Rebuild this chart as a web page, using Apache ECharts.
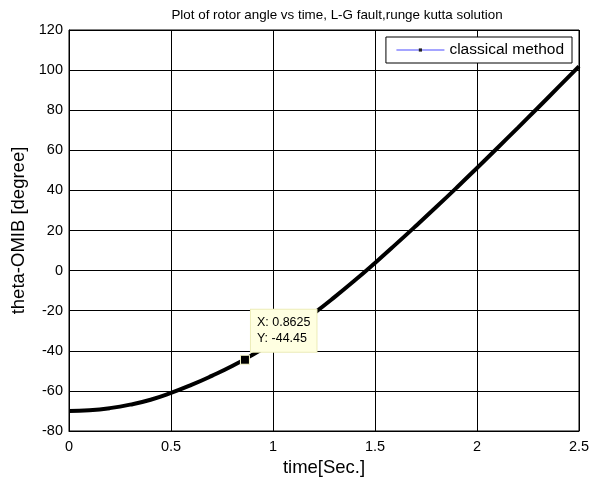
<!DOCTYPE html>
<html>
<head>
<meta charset="utf-8">
<script src="https://cdn.jsdelivr.net/npm/echarts@6/dist/echarts.min.js"></script>
<style>
  html, body { margin: 0; padding: 0; background: #fff; }
  #chart { width: 599px; height: 479px; }
</style>
</head>
<body>
<div id="chart"></div>
<script>
// Rotor angle trajectory (Runge-Kutta solution), sampled every 0.1 s
const timeSec = [0.0, 0.1, 0.2, 0.3, 0.4, 0.5, 0.6, 0.7, 0.8, 0.9, 1.0, 1.1, 1.2,
                 1.3, 1.4, 1.5, 1.6, 1.7, 1.8, 1.9, 2.0, 2.1, 2.2, 2.3, 2.4, 2.5];
const thetaDeg = [-70.0, -69.65, -68.6, -66.85, -64.4, -61.0, -57.0, -52.5, -47.6, -42.0,
                  -35.75, -28.85, -21.35, -13.35, -4.95, 3.85, 12.95, 22.25, 31.7, 41.35,
                  51.2, 61.15, 71.2, 81.35, 91.6, 101.9];

// Data cursor reading
const tipX = 0.8625;
const tipY = -44.45;

const xTicks = { min: 0, max: 2.5, step: 0.5 };
const yTicks = { min: -80, max: 120, step: 20 };

const seriesName = 'classical method';
const chartTitle = 'Plot of rotor angle vs time, L-G fault,runge kutta solution';
const xLabel = 'time[Sec.]';
const yLabel = 'theta-OMIB [degree]';

const FONT = '"Liberation Sans", Arial, sans-serif';

const points = timeSec.map((t, i) => [t, thetaDeg[i]]);

const chart = echarts.init(document.getElementById('chart'), null, { renderer: 'canvas' });

chart.setOption({
  backgroundColor: '#ffffff',
  animation: false,
  title: {
    text: chartTitle,
    left: 332,
    top: 4,
    textAlign: 'center',
    textStyle: { fontFamily: FONT, fontSize: 13.4, fontWeight: 'normal', color: '#000' }
  },
  grid: {
    left: 69, right: 20, top: 30, bottom: 48,
    outerBoundsMode: 'none',
    containLabel: false,
    show: true, borderColor: '#000', borderWidth: 1, backgroundColor: '#fff'
  },
  legend: {
    right: 27,
    top: 37,
    orient: 'vertical',
    backgroundColor: '#fff',
    borderColor: '#000',
    borderWidth: 1,
    padding: [5, 8, 5, 10],
    itemWidth: 48,
    itemHeight: 4,
    textStyle: { fontFamily: FONT, fontSize: 15.5, color: '#000' },
    data: [{
      name: seriesName,
      itemStyle: { color: '#222', borderWidth: 0 },
      lineStyle: { color: '#4a4aff', width: 1 }
    }]
  },
  xAxis: {
    type: 'value',
    min: xTicks.min, max: xTicks.max, interval: xTicks.step,
    name: xLabel,
    nameLocation: 'middle',
    nameGap: 26,
    nameTextStyle: { fontFamily: FONT, fontSize: 18.5, color: '#000' },
    axisLine: { show: true, onZero: false, lineStyle: { color: '#000', width: 1 } },
    axisTick: { show: true, inside: true, length: 5, lineStyle: { color: '#000' } },
    axisLabel: { fontFamily: FONT, fontSize: 14.5, color: '#000', margin: 8 },
    splitLine: { show: true, lineStyle: { color: '#000', width: 1, type: 'solid' } }
  },
  yAxis: {
    type: 'value',
    min: yTicks.min, max: yTicks.max, interval: yTicks.step,
    name: yLabel,
    nameLocation: 'middle',
    nameRotate: 90,
    nameGap: 35,
    nameTextStyle: { fontFamily: FONT, fontSize: 18.5, color: '#000' },
    axisLine: { show: true, onZero: false, lineStyle: { color: '#000', width: 1 } },
    axisTick: { show: true, inside: true, length: 5, lineStyle: { color: '#000' } },
    axisLabel: { fontFamily: FONT, fontSize: 14.5, color: '#000', margin: 6 },
    splitLine: { show: true, lineStyle: { color: '#000', width: 1, type: 'solid' } }
  },
  series: [{
    name: seriesName,
    type: 'line',
    data: points,
    smooth: true,
    showSymbol: false,
    symbol: 'rect',
    color: '#000',
    lineStyle: { color: '#000', width: 4 },
    z: 3,
    markPoint: {
      z: 10,
      symbol: 'rect',
      symbolSize: 9,
      itemStyle: { color: '#000', borderColor: '#ffffd0', borderWidth: 1 },
      data: [{ coord: [tipX, tipY], value: tipY }],
      label: {
        show: true,
        position: [11, -45],
        formatter: () => 'X: ' + tipX + '\nY: ' + tipY,
        fontFamily: FONT,
        fontSize: 12.5,
        lineHeight: 16,
        color: '#000',
        align: 'left',
        verticalAlign: 'top',
        backgroundColor: '#ffffe1',
        borderColor: '#ececb8',
        borderWidth: 1,
        padding: [5, 6, 5, 6]
      }
    }
  }]
});
</script>
</body>
</html>
